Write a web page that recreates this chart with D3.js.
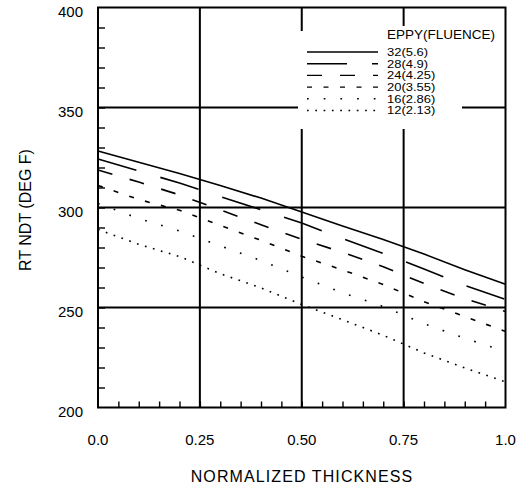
<!DOCTYPE html>
<html>
<head>
<meta charset="utf-8">
<script src="https://cdn.jsdelivr.net/npm/d3@7"></script>
<style>
    body { margin: 0; background: #fff; }
    text { font-family: Arial, "Liberation Sans", Helvetica, sans-serif; fill: #000; }
</style>
</head>
<body>
<svg id="chart" width="527" height="488"></svg>
<script>
// normalized thickness positions where the curves were read
var thickness = [0, 0.1, 0.2, 0.3, 0.4, 0.5, 0.6, 0.7, 0.8, 0.9, 1.0];

// RT NDT (deg F) per EFPY
var efpy32 = [328.3, 322.6, 317.0, 311.0, 304.7, 297.8, 290.8, 284.0, 276.7, 268.9, 261.6];
var efpy28 = [324.3, 318.3, 312.2, 305.5, 298.9, 292.2, 284.5, 277.0, 269.3, 261.1, 254.0];
var efpy24 = [318.8, 312.7, 306.3, 298.8, 291.4, 284.1, 277.6, 270.4, 262.0, 254.4, 248.0];
var efpy20 = [311.0, 304.0, 298.6, 291.0, 283.6, 275.6, 268.8, 261.5, 252.9, 245.5, 238.0];
var efpy16 = [302.0, 294.5, 288.3, 280.8, 273.5, 265.2, 257.4, 250.5, 241.9, 234.6, 228.0];
var efpy12 = [289.0, 281.6, 275.5, 266.9, 259.8, 251.5, 243.9, 236.1, 227.3, 219.8, 212.8];

var seriesLabels = ["32(5.6)", "28(4.9)", "24(4.25)", "20(3.55)", "16(2.86)", "12(2.13)"];
var legendTitle = "EPPY(FLUENCE)";

var xTicks = [0, 0.25, 0.5, 0.75, 1.0];
var xTickLabels = ["0.0", "0.25", "0.50", "0.75", "1.0"];
var yTicks = [200, 250, 300, 350, 400];

var seriesValues = [efpy32, efpy28, efpy24, efpy20, efpy16, efpy12];
var dashes = ["none", "40,25", "15,18", "5,11.5", "1.7,15", "1.7,6.6"];

drawChart();

/**
 * draws the whole chart into #chart
 */
function drawChart()
{
    var svg = d3.select("#chart");

    var x = d3.scaleLinear().domain([0, 1]).range([98, 505.5]);
    var y = d3.scaleLinear().domain([200, 400]).range([407.5, 7.5]);

    // minor ticks pointing inward on left and bottom
    svg.append("g")
            .attr("transform", "translate(" + x(0) + ",0)")
            .call(d3.axisRight(y).tickValues(d3.range(210, 400, 10)).tickSize(7).tickFormat(""))
            .call(function(g) {
                g.select(".domain").remove();
                g.selectAll("line").attr("stroke", "#000").attr("stroke-width", 1.4);
            });

    svg.append("g")
            .attr("transform", "translate(0," + y(200) + ")")
            .call(d3.axisTop(x).tickValues(d3.range(1, 20).map(function(i) { return i * 0.05; })).tickSize(6).tickFormat(""))
            .call(function(g) {
                g.select(".domain").remove();
                g.selectAll("line").attr("stroke", "#000").attr("stroke-width", 1.4);
            });

    // heavy grid
    svg.append("g")
            .selectAll("line")
            .data([0.25, 0.5, 0.75])
            .enter().append("line")
            .attr("x1", function(d) { return x(d); })
            .attr("x2", function(d) { return x(d); })
            .attr("y1", y(400))
            .attr("y2", y(200))
            .style("stroke", "#000")
            .style("stroke-width", "2px");

    svg.append("g")
            .selectAll("line")
            .data([250, 300, 350])
            .enter().append("line")
            .attr("x1", x(0))
            .attr("x2", x(1))
            .attr("y1", function(d) { return y(d); })
            .attr("y2", function(d) { return y(d); })
            .style("stroke", "#000")
            .style("stroke-width", "2px");

    // frame
    svg.append("rect")
            .attr("x", x(0))
            .attr("y", y(400))
            .attr("width", x(1) - x(0))
            .attr("height", y(200) - y(400))
            .style("fill", "none")
            .style("stroke", "#000")
            .style("stroke-width", "2px");

    // tick labels
    svg.append("g")
            .selectAll("text")
            .data(xTicks)
            .enter().append("text")
            .attr("x", function(d) { return x(d); })
            .attr("y", 445)
            .attr("text-anchor", "middle")
            .style("font-size", "15px")
            .text(function(d, i) { return xTickLabels[i]; });

    svg.append("g")
            .selectAll("text")
            .data(yTicks)
            .enter().append("text")
            .attr("x", 83)
            .attr("y", function(d) { return y(d) + 9; })
            .attr("text-anchor", "end")
            .style("font-size", "15px")
            .text(function(d) { return d; });

    // axis titles
    svg.append("text")
            .attr("x", 302)
            .attr("y", 482)
            .attr("text-anchor", "middle")
            .style("font-size", "16px")
            .style("letter-spacing", "1.1px")
            .text("NORMALIZED THICKNESS");

    svg.append("text")
            .attr("transform", "translate(31,210) rotate(-90)")
            .attr("text-anchor", "middle")
            .style("font-size", "16px")
            .text("RT NDT (DEG F)");

    // curves
    var line = d3.line()
            .x(function(d, i) { return x(thickness[i]); })
            .y(function(d) { return y(d); });

    svg.append("g")
            .selectAll("path")
            .data(seriesValues)
            .enter().append("path")
            .attr("d", line)
            .style("fill", "none")
            .style("stroke", "#000")
            .style("stroke-width", "1.6px")
            .style("stroke-dasharray", function(d, i) { return dashes[i]; });

    // legend, drawn over the grid
    var legend = svg.append("g");

    legend.append("rect")
            .attr("x", 298)
            .attr("y", 31)
            .attr("width", 164)
            .attr("height", 98)
            .style("fill", "#fff");

    legend.append("rect")
            .attr("x", 384)
            .attr("y", 26)
            .attr("width", 116)
            .attr("height", 16)
            .style("fill", "#fff");

    legend.append("text")
            .attr("x", 387)
            .attr("y", 39)
            .style("font-size", "13.5px")
            .text(legendTitle);

    var rows = legend.selectAll(".row")
            .data(seriesLabels)
            .enter().append("g")
            .attr("class", "row")
            .attr("transform", function(d, i) { return "translate(0," + (52 + i * 11.7) + ")"; });

    rows.append("line")
            .attr("x1", 307)
            .attr("x2", 378)
            .style("stroke", "#000")
            .style("stroke-width", "1.4px")
            .style("stroke-dasharray", function(d, i) { return dashes[i]; });

    // labels are squeezed in the original, so narrow font stretched sideways
    rows.append("text")
            .attr("transform", "translate(387,3.8) scale(1.3,1)")
            .style("font-size", "10px")
            .text(function(d) { return d; });
}
</script>
</body>
</html>
